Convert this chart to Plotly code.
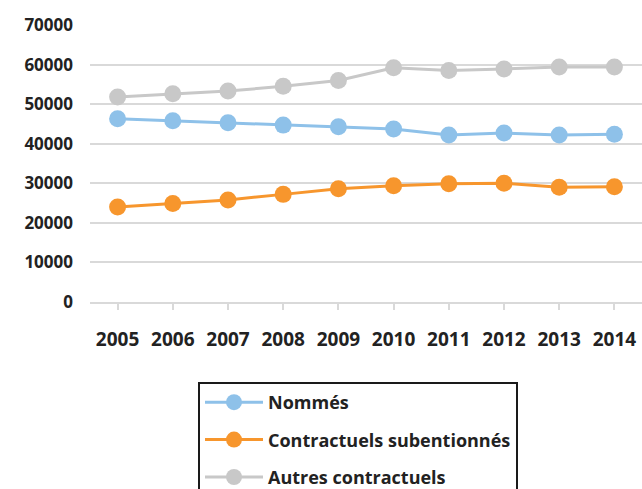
import plotly.graph_objects as go

years = ["2005", "2006", "2007", "2008", "2009", "2010", "2011", "2012", "2013", "2014"]
nommes = [46300, 45800, 45300, 44700, 44300, 43700, 42200, 42700, 42200, 42400]
contractuels_sub = [24000, 24900, 25800, 27200, 28600, 29400, 29900, 30000, 29000, 29100]
autres_contractuels = [51800, 52600, 53300, 54500, 56000, 59200, 58500, 58900, 59400, 59400]

y_ticks = [0, 10000, 20000, 30000, 40000, 50000, 60000, 70000]

series = [
    ("Nommés", nommes, "#8ec1e9"),
    ("Contractuels subentionnés", contractuels_sub, "#f7962d"),
    ("Autres contractuels", autres_contractuels, "#c8c8c8"),
]

fig = go.Figure()
for i, (name, vals, col) in enumerate(series):
    fig.add_trace(go.Scatter(
        x=list(range(len(years))), y=vals, name=name, mode="lines+markers",
        line=dict(color=col, width=3),
        marker=dict(color=col, size=17),
        legendgroup=f"g{i}",
    ))

fig.update_layout(
    width=642, height=489,
    paper_bgcolor="white", plot_bgcolor="white",
    margin=dict(l=90, r=0, t=25, b=187, autoexpand=False),
    font=dict(family="Open Sans", color="#222222"),
    showlegend=True,
    legend=dict(
        x=(198 - 90) / 552, y=(302 - 382) / 277, xanchor="left", yanchor="top",
        bordercolor="#1a1a1a", borderwidth=2, bgcolor="white",
        font=dict(family="Open Sans", size=18, color="#222222", weight="bold"),
        tracegroupgap=11, itemsizing="trace", itemwidth=58,
    ),
    xaxis=dict(
        range=[-0.5, 9.5], tickmode="array", tickvals=list(range(len(years))),
        ticktext=years, showgrid=False, showline=True, linecolor="#d9d9d9", linewidth=2,
        ticks="outside", ticklen=6, tickwidth=2, tickcolor="#d9d9d9",
        tickson="boundaries", zeroline=False, ticklabeloverflow="allow",
        tickfont=dict(family="Open Sans", size=19, color="#222222", weight="bold"),
        ticklabelstandoff=13,
    ),
    yaxis=dict(
        range=[0, 70000], tickmode="array", tickvals=y_ticks,
        ticktext=[str(v) for v in y_ticks], showgrid=True, gridcolor="#d9d9d9",
        gridwidth=2, zeroline=False, showline=False,
        tickfont=dict(family="Open Sans", size=17, color="#222222", weight="bold"),
        ticklabelstandoff=16,
    ),
)

fig.write_html("out.html")
